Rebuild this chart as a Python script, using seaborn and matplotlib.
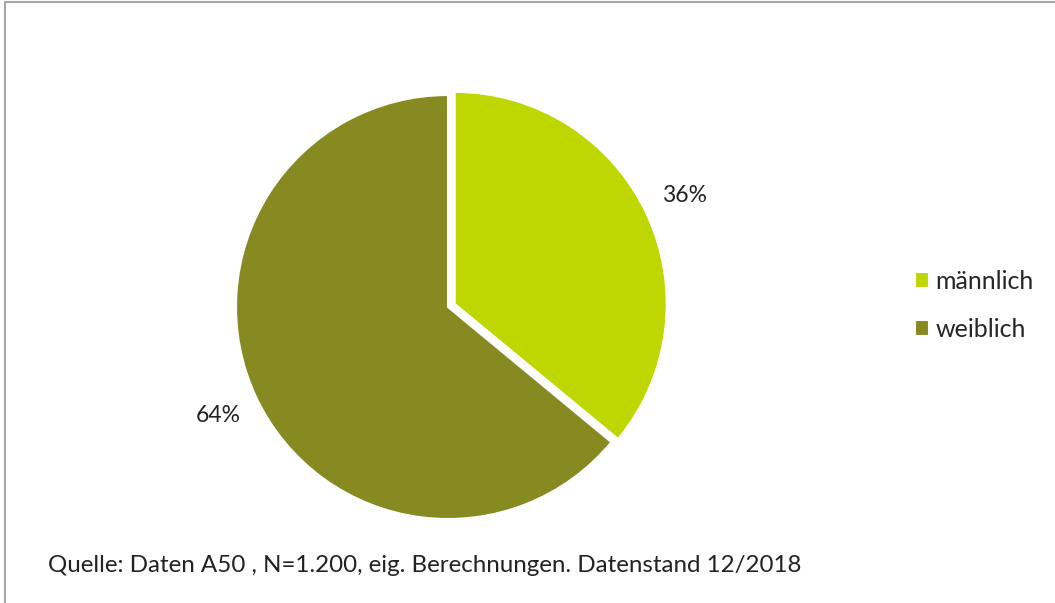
import matplotlib
matplotlib.use('Agg')
import matplotlib.pyplot as plt
from matplotlib.lines import Line2D
import seaborn as sns

categories = ['männlich', 'weiblich']
shares = [36, 64]
colours = ['#BFD700', '#868A21']
source_note = 'Quelle: Daten A50 , N=1.200, eig. Berechnungen. Datenstand 12/2018'

sns.set_theme(style='white')
plt.rcParams['font.family'] = ['Lato', 'DejaVu Sans']

fig = plt.figure(figsize=(10.55, 6.03), dpi=100)
ax = fig.add_axes([0.2036, 0.1041, 0.4421, 0.7735])

wedges, _, autotexts = ax.pie(
    shares,
    colors=colours,
    startangle=90,
    counterclock=False,
    explode=[0.035, 0],
    autopct='%1.0f%%',
    pctdistance=1.2,
    wedgeprops={'edgecolor': 'white', 'linewidth': 1.5},
    textprops={'fontsize': 16.5, 'color': '#222222'},
)
ax.set_xlim(-1.1, 1.1)
ax.set_ylim(-1.1, 1.1)
ax.set_aspect('equal')
ax.axis('off')

fig.legend(
    wedges, categories,
    loc='center left', bbox_to_anchor=(0.8455, 0.4934),
    frameon=False, fontsize=18,
    handlelength=0.58, handleheight=0.58,
    handletextpad=0.25, labelspacing=1.0,
)

fig.text(0.0455, 0.063, source_note, fontsize=17.4, color='#222222', va='center')

# frame of the chart area
fig.add_artist(Line2D([0.005, 0.005], [0, 0.997], transform=fig.transFigure,
                      color='#A6A6A6', linewidth=1.5))
fig.add_artist(Line2D([0.005, 1], [0.997, 0.997], transform=fig.transFigure,
                      color='#A6A6A6', linewidth=1.5))

fig.savefig('out.png', dpi=100)
